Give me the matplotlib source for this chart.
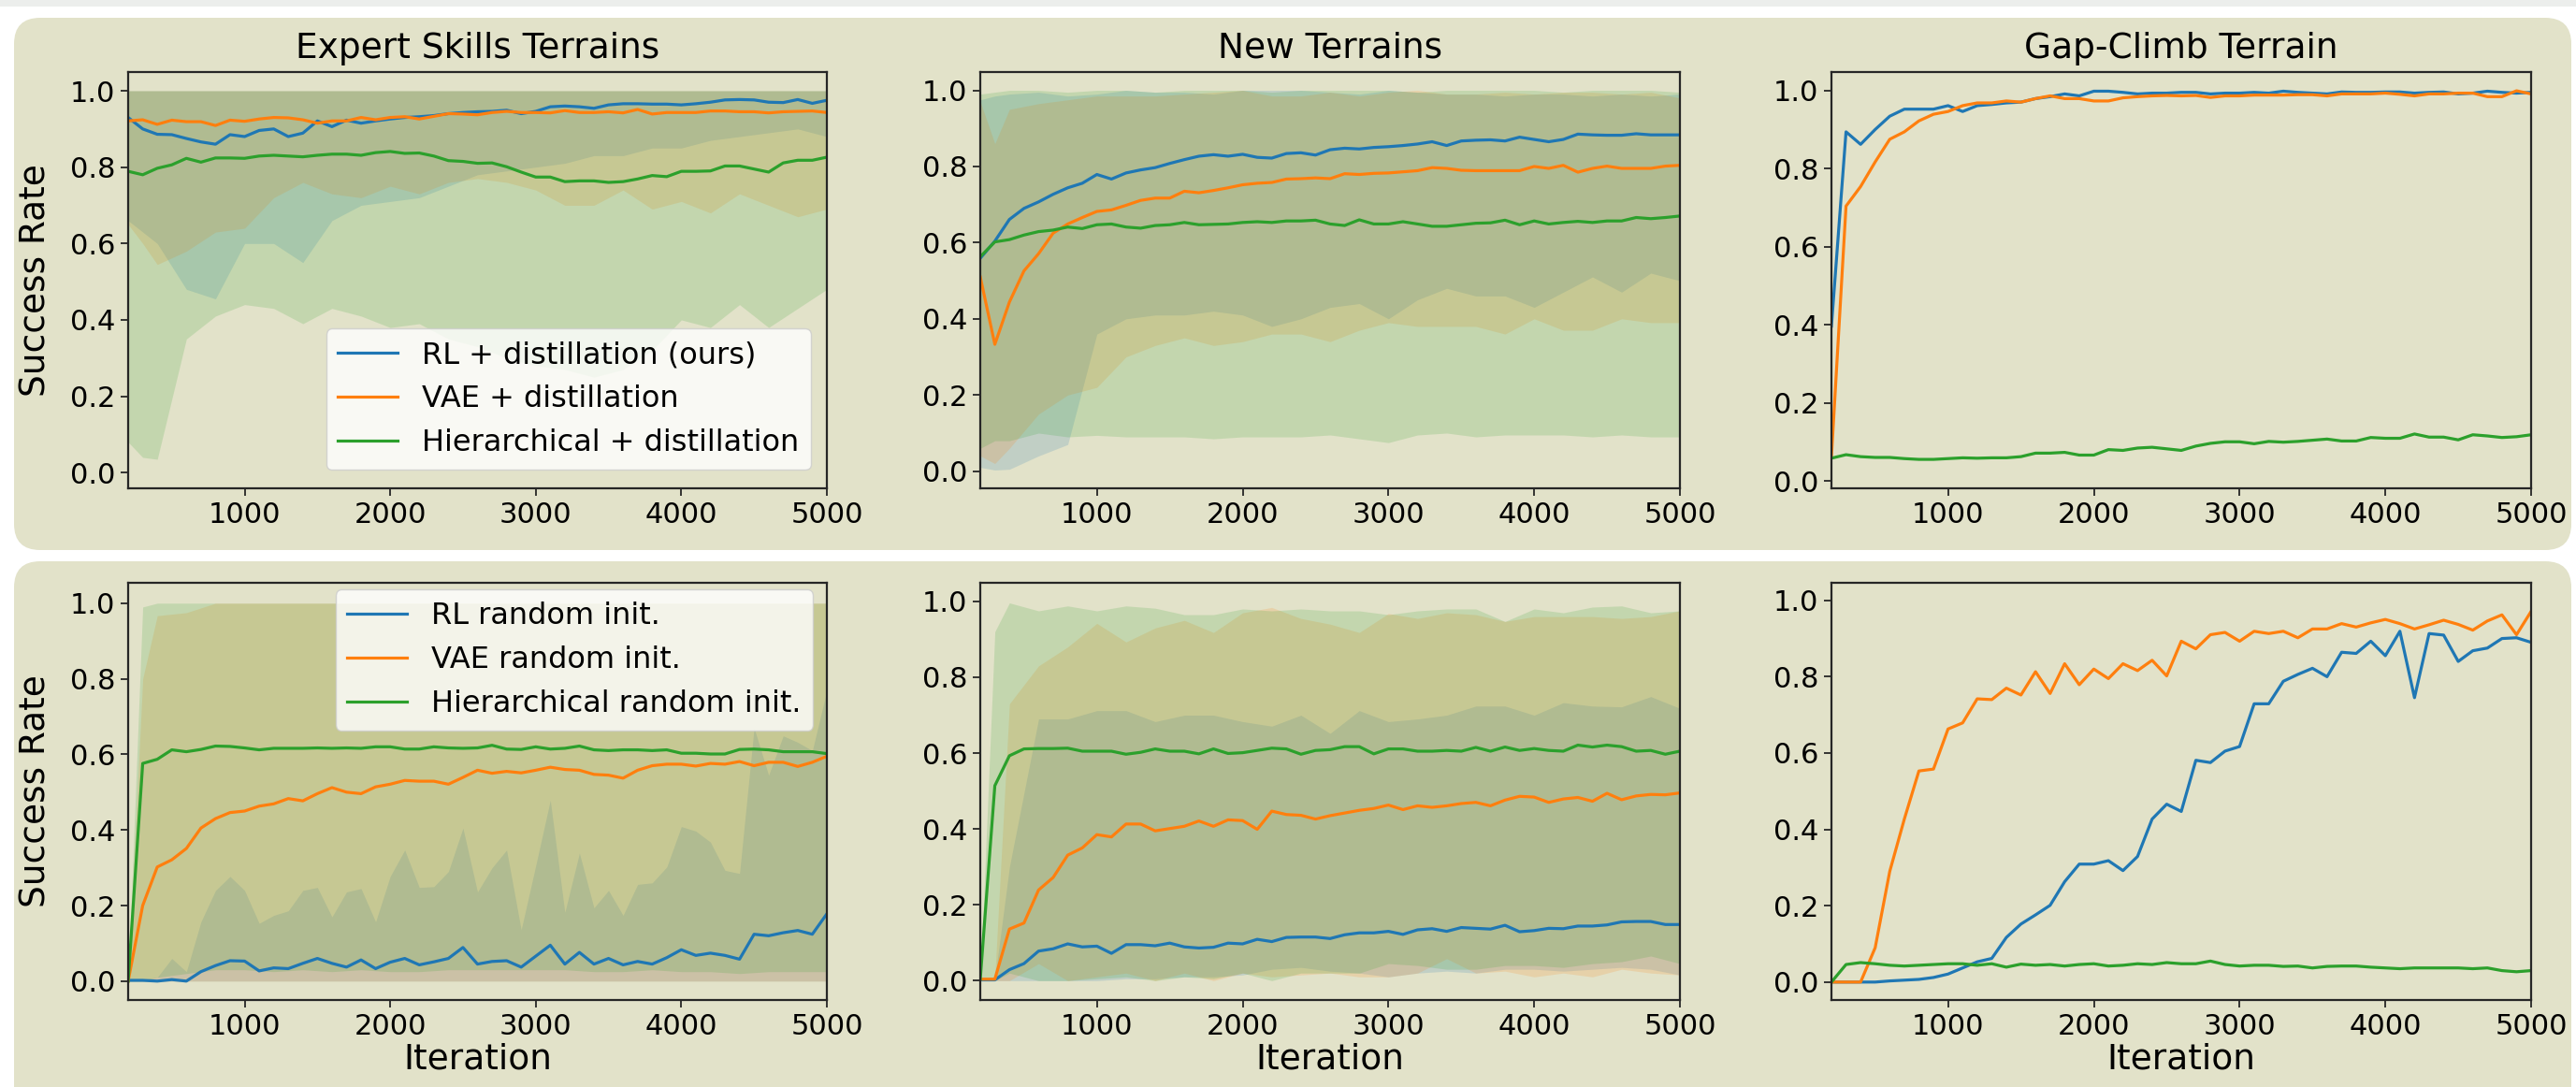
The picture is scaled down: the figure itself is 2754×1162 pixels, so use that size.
import matplotlib
matplotlib.use("Agg")
import matplotlib.pyplot as plt
from matplotlib.patches import FancyBboxPatch, Rectangle
from matplotlib.transforms import IdentityTransform

# ---------------- data ----------------
ITER = list(range(200, 5001, 100))
BAND_ITER = [200, 300, 400] + list(range(600, 5001, 200))

TITLES = ["Expert Skills Terrains", "New Terrains", "Gap-Climb Terrain"]
LABELS_TOP = ["RL + distillation (ours)", "VAE + distillation", "Hierarchical + distillation"]
LABELS_BOT = ["RL random init.", "VAE random init.", "Hierarchical random init."]
XTICKS = [1000, 2000, 3000, 4000, 5000]
YTICKS = [0.0, 0.2, 0.4, 0.6, 0.8, 1.0]

# Expert Skills Terrains (distillation)
P1_RL = [0.93, 0.90, 0.886, 0.885, 0.875, 0.866, 0.86, 0.885, 0.88, 0.896, 0.90, 0.88, 0.889, 0.921, 0.906, 0.923, 0.915,
         0.921, 0.926, 0.93, 0.932, 0.935, 0.94, 0.943, 0.945, 0.946, 0.949, 0.94, 0.946, 0.958, 0.96, 0.958, 0.954, 0.963,
         0.966, 0.966, 0.965, 0.965, 0.963, 0.966, 0.97, 0.976, 0.977, 0.976, 0.97, 0.969, 0.977, 0.967, 0.975]
P1_VAE = [0.921, 0.924, 0.912, 0.923, 0.919, 0.919, 0.909, 0.923, 0.92, 0.926, 0.93, 0.929, 0.924, 0.915, 0.921, 0.921,
          0.93, 0.924, 0.93, 0.932, 0.926, 0.933, 0.94, 0.939, 0.937, 0.943, 0.946, 0.943, 0.943, 0.942, 0.948, 0.943, 0.943,
          0.945, 0.942, 0.951, 0.939, 0.943, 0.943, 0.943, 0.947, 0.947, 0.945, 0.945, 0.942, 0.945, 0.946, 0.947, 0.943]
P1_HIER = [0.789, 0.78, 0.797, 0.806, 0.823, 0.813, 0.824, 0.824, 0.823, 0.829, 0.831, 0.829, 0.827, 0.831, 0.834, 0.834,
           0.831, 0.838, 0.841, 0.836, 0.837, 0.829, 0.817, 0.815, 0.81, 0.811, 0.801, 0.787, 0.774, 0.774, 0.762, 0.764,
           0.764, 0.76, 0.762, 0.769, 0.778, 0.775, 0.789, 0.789, 0.79, 0.803, 0.803, 0.795, 0.787, 0.811, 0.818, 0.818, 0.826]
P1_RL_LO = [0.66, 0.63, 0.60, 0.48, 0.455, 0.60, 0.60, 0.55, 0.66, 0.70, 0.71, 0.72, 0.75, 0.78, 0.79, 0.80, 0.81, 0.83,
            0.83, 0.85, 0.85, 0.87, 0.88, 0.89, 0.90, 0.88]
P1_VAE_LO = [0.65, 0.60, 0.545, 0.58, 0.63, 0.64, 0.72, 0.76, 0.73, 0.72, 0.75, 0.73, 0.76, 0.77, 0.76, 0.74, 0.70, 0.70,
             0.74, 0.69, 0.71, 0.68, 0.73, 0.70, 0.67, 0.69]
P1_HIER_LO = [0.08, 0.04, 0.035, 0.35, 0.41, 0.44, 0.43, 0.39, 0.43, 0.41, 0.38, 0.39, 0.35, 0.33, 0.30, 0.28, 0.27, 0.25,
              0.27, 0.32, 0.40, 0.38, 0.44, 0.38, 0.43, 0.48]
P1_HI = [1.0, 1.0, 1.0, 1.0, 1.0, 1.0, 1.0, 1.0, 1.0, 1.0, 1.0, 1.0, 1.0, 1.0, 1.0, 1.0, 1.0, 1.0, 1.0, 1.0, 1.0, 1.0,
         1.0, 1.0, 1.0, 1.0]

# New Terrains (distillation)
P2_RL = [0.559, 0.604, 0.661, 0.69, 0.707, 0.727, 0.744, 0.756, 0.779, 0.767, 0.783, 0.791, 0.797, 0.808, 0.818, 0.827,
         0.831, 0.827, 0.832, 0.824, 0.822, 0.834, 0.836, 0.83, 0.844, 0.848, 0.846, 0.85, 0.852, 0.855, 0.859, 0.865,
         0.855, 0.867, 0.869, 0.87, 0.867, 0.877, 0.871, 0.865, 0.871, 0.885, 0.883, 0.882, 0.882, 0.886, 0.883, 0.883, 0.883]
P2_VAE = [0.51, 0.333, 0.444, 0.526, 0.571, 0.625, 0.649, 0.666, 0.682, 0.686, 0.698, 0.711, 0.717, 0.717, 0.735, 0.731,
          0.737, 0.744, 0.752, 0.756, 0.758, 0.767, 0.768, 0.77, 0.768, 0.781, 0.779, 0.782, 0.783, 0.786, 0.789, 0.797,
          0.795, 0.79, 0.789, 0.789, 0.789, 0.789, 0.8, 0.795, 0.803, 0.785, 0.795, 0.801, 0.795, 0.795, 0.795, 0.801, 0.803]
P2_HIER = [0.563, 0.602, 0.608, 0.62, 0.629, 0.633, 0.641, 0.637, 0.647, 0.649, 0.641, 0.638, 0.645, 0.647, 0.653, 0.647,
           0.648, 0.649, 0.653, 0.655, 0.653, 0.657, 0.657, 0.659, 0.649, 0.645, 0.66, 0.649, 0.649, 0.655, 0.649, 0.643,
           0.643, 0.647, 0.651, 0.652, 0.659, 0.647, 0.657, 0.649, 0.653, 0.656, 0.653, 0.657, 0.657, 0.666, 0.663, 0.666, 0.67]
P2_RL_LO = [0.01, 0.003, 0.005, 0.04, 0.07, 0.36, 0.40, 0.41, 0.41, 0.42, 0.41, 0.38, 0.40, 0.43, 0.44, 0.40, 0.45, 0.48,
            0.46, 0.46, 0.43, 0.47, 0.51, 0.47, 0.52, 0.50]
P2_RL_HI = [0.975, 0.985, 0.99, 0.995, 0.985, 0.99, 1.0, 0.995, 0.995, 0.99, 1.0, 1.0, 1.0, 0.995, 0.99, 1.0, 0.995, 0.99,
            0.99, 0.985, 0.99, 0.99, 0.985, 0.99, 0.985, 0.99]
P2_VAE_LO = [0.04, 0.02, 0.06, 0.15, 0.20, 0.22, 0.30, 0.33, 0.35, 0.33, 0.34, 0.36, 0.36, 0.34, 0.37, 0.39, 0.38, 0.38,
             0.38, 0.36, 0.40, 0.37, 0.37, 0.40, 0.39, 0.39]
P2_VAE_HI = [0.97, 0.86, 0.95, 0.965, 0.975, 0.985, 0.985, 0.985, 0.99, 0.995, 1.0, 0.985, 0.985, 0.995, 0.985, 0.995,
             1.0, 0.99, 0.99, 0.995, 0.99, 0.995, 0.995, 0.99, 0.995, 0.98]
P2_HIER_LO = [0.06, 0.08, 0.08, 0.10, 0.09, 0.094, 0.09, 0.09, 0.09, 0.085, 0.09, 0.09, 0.09, 0.095, 0.085, 0.075, 0.095,
              0.10, 0.09, 0.095, 0.095, 0.095, 0.09, 0.095, 0.09, 0.09]
P2_HIER_HI = [0.99, 0.995, 1.0, 1.0, 0.995, 1.0, 1.0, 0.995, 1.0, 1.0, 1.0, 0.995, 1.0, 1.0, 1.0, 1.0, 0.995, 1.0, 1.0,
              1.0, 1.0, 0.995, 1.0, 1.0, 1.0, 0.995]

# Gap-Climb Terrain (distillation)
P3_RL = [0.397, 0.894, 0.862, 0.9, 0.934, 0.952, 0.952, 0.952, 0.961, 0.946, 0.961, 0.964, 0.968, 0.97, 0.979, 0.984,
         0.991, 0.986, 0.998, 0.998, 0.995, 0.991, 0.993, 0.993, 0.995, 0.995, 0.991, 0.993, 0.993, 0.995, 0.993, 0.998,
         0.995, 0.993, 0.991, 0.996, 0.995, 0.995, 0.996, 0.996, 0.993, 0.995, 0.996, 0.991, 0.993, 0.998, 0.995, 0.993, 0.995]
P3_VAE = [0.063, 0.704, 0.754, 0.817, 0.875, 0.894, 0.922, 0.939, 0.946, 0.961, 0.968, 0.968, 0.973, 0.97, 0.979, 0.986,
          0.979, 0.979, 0.973, 0.973, 0.981, 0.984, 0.986, 0.987, 0.986, 0.987, 0.982, 0.986, 0.986, 0.988, 0.988, 0.988,
          0.989, 0.989, 0.986, 0.991, 0.991, 0.991, 0.993, 0.99, 0.986, 0.991, 0.991, 0.993, 0.993, 0.984, 0.984, 0.999, 0.991]
P3_HIER = [0.059, 0.068, 0.063, 0.061, 0.061, 0.058, 0.056, 0.056, 0.058, 0.06, 0.059, 0.06, 0.06, 0.063, 0.072, 0.072,
           0.074, 0.067, 0.067, 0.081, 0.079, 0.085, 0.087, 0.083, 0.079, 0.09, 0.097, 0.101, 0.101, 0.096, 0.102, 0.1,
           0.102, 0.105, 0.108, 0.103, 0.103, 0.112, 0.11, 0.11, 0.121, 0.113, 0.113, 0.106, 0.119, 0.116, 0.112, 0.114, 0.119]

# Expert Skills Terrains (random init)
P4_RL = [0.002, 0.002, 0.0, 0.004, 0.0, 0.025, 0.041, 0.054, 0.053, 0.027, 0.035, 0.033, 0.047, 0.06, 0.047, 0.037, 0.056,
         0.033, 0.05, 0.06, 0.043, 0.051, 0.06, 0.089, 0.045, 0.052, 0.054, 0.037, 0.066, 0.095, 0.045, 0.076, 0.045, 0.06,
         0.043, 0.052, 0.045, 0.062, 0.083, 0.068, 0.074, 0.068, 0.058, 0.124, 0.12, 0.128, 0.134, 0.124, 0.178]
P4_VAE = [0.0, 0.2, 0.302, 0.321, 0.351, 0.405, 0.43, 0.446, 0.45, 0.463, 0.469, 0.483, 0.477, 0.496, 0.512, 0.5, 0.496,
          0.514, 0.521, 0.531, 0.529, 0.529, 0.521, 0.539, 0.558, 0.55, 0.555, 0.551, 0.558, 0.566, 0.56, 0.558, 0.547,
          0.545, 0.537, 0.558, 0.57, 0.574, 0.574, 0.569, 0.576, 0.574, 0.581, 0.57, 0.579, 0.579, 0.568, 0.579, 0.595]
P4_HIER = [0.0, 0.576, 0.587, 0.612, 0.607, 0.613, 0.622, 0.621, 0.617, 0.612, 0.616, 0.616, 0.616, 0.617, 0.616, 0.617,
           0.616, 0.62, 0.62, 0.614, 0.614, 0.62, 0.617, 0.616, 0.617, 0.624, 0.614, 0.613, 0.62, 0.614, 0.616, 0.622,
           0.612, 0.61, 0.612, 0.612, 0.61, 0.612, 0.603, 0.603, 0.601, 0.601, 0.613, 0.614, 0.612, 0.607, 0.607, 0.607, 0.602]
P4_RL_LO = [0.0, 0.0, 0.0, 0.0, 0.0, 0.0, 0.0, 0.0, 0.0, 0.0, 0.0, 0.0, 0.0, 0.0, 0.0, 0.0, 0.0, 0.0, 0.0, 0.0, 0.0, 0.0,
            0.0, 0.0, 0.0, 0.0, 0.0, 0.0, 0.0, 0.0, 0.0, 0.0, 0.0, 0.0, 0.0, 0.0, 0.0, 0.0, 0.0, 0.0, 0.0, 0.0, 0.0, 0.0,
            0.0, 0.0, 0.0, 0.0, 0.0]
P4_RL_HI = [0.0, 0.005, 0.01, 0.06, 0.025, 0.157, 0.24, 0.277, 0.24, 0.153, 0.174, 0.186, 0.24, 0.248, 0.17, 0.236, 0.245,
            0.157, 0.277, 0.347, 0.248, 0.25, 0.29, 0.405, 0.236, 0.30, 0.347, 0.136, 0.306, 0.479, 0.182, 0.339, 0.194,
            0.24, 0.174, 0.256, 0.26, 0.302, 0.409, 0.397, 0.368, 0.293, 0.285, 0.67, 0.545, 0.649, 0.632, 0.61, 0.77]
P4_VAE_LO = [0.0, 0.0, 0.0, 0.0, 0.0, 0.0, 0.0, 0.0, 0.0, 0.0, 0.0, 0.0, 0.0, 0.0, 0.0, 0.0, 0.0, 0.0, 0.0, 0.0, 0.0, 0.0,
             0.0, 0.0, 0.0, 0.0]
P4_VAE_HI = [0.0, 0.80, 0.967, 0.975, 1.0, 1.0, 1.0, 1.0, 1.0, 1.0, 1.0, 1.0, 1.0, 1.0, 1.0, 1.0, 1.0, 1.0, 1.0, 1.0, 1.0,
             1.0, 1.0, 1.0, 1.0, 1.0]
P4_HIER_LO = [0.0, 0.0, 0.01, 0.02, 0.03, 0.03, 0.025, 0.03, 0.025, 0.03, 0.025, 0.025, 0.03, 0.03, 0.03, 0.03, 0.03,
              0.025, 0.025, 0.03, 0.025, 0.025, 0.02, 0.025, 0.025, 0.025]
P4_HIER_HI = [0.0, 0.99, 1.0, 1.0, 1.0, 1.0, 1.0, 1.0, 1.0, 1.0, 1.0, 1.0, 1.0, 1.0, 1.0, 1.0, 1.0, 1.0, 1.0, 1.0, 1.0,
              1.0, 1.0, 1.0, 1.0, 1.0]

# New Terrains (random init)
P5_RL = [0.002, 0.002, 0.029, 0.045, 0.078, 0.084, 0.097, 0.089, 0.091, 0.072, 0.095, 0.095, 0.092, 0.099, 0.089, 0.086,
         0.088, 0.099, 0.097, 0.109, 0.103, 0.114, 0.115, 0.115, 0.111, 0.121, 0.126, 0.126, 0.13, 0.122, 0.134, 0.137,
         0.13, 0.14, 0.138, 0.136, 0.146, 0.129, 0.132, 0.138, 0.137, 0.144, 0.144, 0.147, 0.155, 0.156, 0.156, 0.148, 0.148]
P5_VAE = [0.004, 0.004, 0.136, 0.152, 0.239, 0.272, 0.331, 0.35, 0.385, 0.379, 0.413, 0.413, 0.395, 0.401, 0.407, 0.421,
          0.407, 0.424, 0.422, 0.399, 0.447, 0.438, 0.436, 0.426, 0.435, 0.442, 0.449, 0.454, 0.463, 0.451, 0.461, 0.457,
          0.461, 0.467, 0.47, 0.461, 0.476, 0.486, 0.484, 0.47, 0.479, 0.483, 0.473, 0.494, 0.477, 0.487, 0.491, 0.49, 0.495]
P5_HIER = [0.004, 0.514, 0.593, 0.611, 0.612, 0.612, 0.613, 0.605, 0.605, 0.605, 0.597, 0.602, 0.611, 0.605, 0.605,
           0.598, 0.611, 0.599, 0.601, 0.607, 0.613, 0.611, 0.597, 0.607, 0.609, 0.617, 0.617, 0.598, 0.611, 0.611, 0.605,
           0.605, 0.607, 0.605, 0.615, 0.605, 0.616, 0.607, 0.612, 0.607, 0.605, 0.621, 0.616, 0.621, 0.617, 0.605, 0.607,
           0.597, 0.605]
P5_RL_LO = [0.0, 0.0, 0.0, 0.0, 0.0, 0.0, 0.005, 0.005, 0.01, 0.01, 0.015, 0.03, 0.035, 0.025, 0.02, 0.01, 0.02, 0.025,
            0.02, 0.03, 0.03, 0.025, 0.03, 0.035, 0.03, 0.015]
P5_RL_HI = [0.002, 0.005, 0.30, 0.69, 0.69, 0.712, 0.712, 0.683, 0.70, 0.70, 0.683, 0.671, 0.70, 0.652, 0.712, 0.683,
            0.69, 0.70, 0.724, 0.724, 0.70, 0.733, 0.724, 0.722, 0.749, 0.718]
P5_VAE_LO = [0.0, 0.0, 0.0, 0.045, 0.0, 0.01, 0.02, 0.0, 0.02, 0.0, 0.02, 0.01, 0.015, 0.02, 0.01, 0.01, 0.02, 0.058,
             0.02, 0.025, 0.01, 0.02, 0.01, 0.03, 0.02, 0.015]
P5_VAE_HI = [0.004, 0.01, 0.73, 0.83, 0.88, 0.942, 0.893, 0.93, 0.95, 0.918, 0.97, 0.984, 0.955, 0.94, 0.918, 0.968,
             0.955, 0.97, 0.965, 0.947, 0.96, 0.96, 0.96, 0.955, 0.96, 0.975]
P5_HIER_LO = [0.0, 0.0, 0.02, 0.0, 0.0, 0.005, 0.01, 0.0, 0.01, 0.005, 0.02, 0.0, 0.02, 0.02, 0.02, 0.045, 0.04, 0.03,
              0.03, 0.04, 0.04, 0.035, 0.045, 0.05, 0.065, 0.045]
P5_HIER_HI = [0.0, 0.92, 0.996, 0.975, 0.988, 0.975, 0.988, 0.982, 0.965, 0.965, 0.98, 0.975, 0.98, 0.975, 0.975,
              0.965, 0.975, 0.98, 0.98, 0.947, 0.98, 0.97, 0.985, 0.988, 0.97, 0.975]

# Gap-Climb Terrain (random init)
P6_RL = [0.0, 0.0, 0.0, 0.0, 0.003, 0.005, 0.007, 0.012, 0.021, 0.037, 0.053, 0.062, 0.117, 0.152, 0.176, 0.201, 0.263,
         0.309, 0.309, 0.318, 0.292, 0.329, 0.427, 0.466, 0.447, 0.581, 0.575, 0.605, 0.617, 0.729, 0.729, 0.788, 0.806,
         0.822, 0.8, 0.864, 0.861, 0.893, 0.855, 0.919, 0.745, 0.913, 0.909, 0.84, 0.868, 0.875, 0.9, 0.902, 0.89]
P6_VAE = [0.0, 0.0, 0.0, 0.09, 0.29, 0.427, 0.553, 0.558, 0.663, 0.679, 0.742, 0.74, 0.77, 0.752, 0.813, 0.756, 0.834,
          0.779, 0.82, 0.795, 0.834, 0.816, 0.843, 0.802, 0.893, 0.873, 0.91, 0.916, 0.893, 0.919, 0.913, 0.919, 0.902,
          0.925, 0.925, 0.939, 0.93, 0.941, 0.95, 0.939, 0.925, 0.936, 0.948, 0.937, 0.922, 0.946, 0.962, 0.91, 0.971]
P6_HIER = [0.0, 0.046, 0.051, 0.048, 0.044, 0.042, 0.044, 0.046, 0.048, 0.048, 0.044, 0.048, 0.039, 0.047, 0.044, 0.046,
           0.042, 0.046, 0.048, 0.042, 0.044, 0.048, 0.046, 0.051, 0.048, 0.048, 0.055, 0.046, 0.042, 0.044, 0.044, 0.041,
           0.042, 0.037, 0.041, 0.042, 0.042, 0.039, 0.037, 0.035, 0.037, 0.037, 0.037, 0.037, 0.035, 0.037, 0.03, 0.027, 0.03]

# ---------------- style ----------------
W, H = 2754, 1162
BG = "#e2e2c9"
COLORS = ["#1f77b4", "#ff7f0e", "#2ca02c"]
SPINE = "#262626"
BAND_ALPHA = 0.17

fig = plt.figure(figsize=(W / 100, H / 100), dpi=100)
fig.patch.set_facecolor("white")

fig.add_artist(Rectangle((0, H - 7), W, 7, transform=IdentityTransform(), fc="#eceeec", ec="none", zorder=-20))
for y_top, y_bot in [(19, 588), (600, 1220)]:
    fig.add_artist(FancyBboxPatch((15, H - y_bot), 2749 - 15, y_bot - y_top,
                                  boxstyle="round,pad=0,rounding_size=28", transform=IdentityTransform(),
                                  fc=BG, ec="none", zorder=-10))

LEFTS = [137, 1048, 1958]
RIGHTS = [884, 1796, 2706]
ROWS = [(77, 522), (623, 1069)]
YLIMS = [[(-0.041, 1.049), (-0.045, 1.048), (-0.018, 1.047)],
         [(-0.05, 1.054), (-0.051, 1.049), (-0.047, 1.046)]]

panels = [
    [  # top row
        dict(lines=[P1_RL, P1_VAE, P1_HIER],
             bands=[(BAND_ITER, P1_RL_LO, P1_HI), (BAND_ITER, P1_VAE_LO, P1_HI), (BAND_ITER, P1_HIER_LO, P1_HI)]),
        dict(lines=[P2_RL, P2_VAE, P2_HIER],
             bands=[(BAND_ITER, P2_RL_LO, P2_RL_HI), (BAND_ITER, P2_VAE_LO, P2_VAE_HI),
                    (BAND_ITER, P2_HIER_LO, P2_HIER_HI)]),
        dict(lines=[P3_RL, P3_VAE, P3_HIER], bands=[]),
    ],
    [  # bottom row
        dict(lines=[P4_RL, P4_VAE, P4_HIER],
             bands=[(ITER, P4_RL_LO, P4_RL_HI), (BAND_ITER, P4_VAE_LO, P4_VAE_HI),
                    (BAND_ITER, P4_HIER_LO, P4_HIER_HI)]),
        dict(lines=[P5_RL, P5_VAE, P5_HIER],
             bands=[(BAND_ITER, P5_RL_LO, P5_RL_HI), (BAND_ITER, P5_VAE_LO, P5_VAE_HI),
                    (BAND_ITER, P5_HIER_LO, P5_HIER_HI)]),
        dict(lines=[P6_RL, P6_VAE, P6_HIER], bands=[]),
    ],
]

for r, (top, bot) in enumerate(ROWS):
    labels = LABELS_TOP if r == 0 else LABELS_BOT
    for c in range(3):
        ax = fig.add_axes([LEFTS[c] / W, 1 - bot / H, (RIGHTS[c] - LEFTS[c]) / W, (bot - top) / H])
        ax.set_facecolor("none")
        p = panels[r][c]
        for (bx, lo, hi), col in zip(p["bands"], COLORS):
            ax.fill_between(bx, lo, hi, color=col, alpha=BAND_ALPHA, linewidth=0)
        handles = []
        for ys, col, lab in zip(p["lines"], COLORS, labels):
            h, = ax.plot(ITER, ys, color=col, lw=2.3, label=lab)
            handles.append(h)
        ax.set_xlim(200, 5000)
        ax.set_ylim(*YLIMS[r][c])
        ax.set_xticks(XTICKS)
        ax.set_yticks(YTICKS)
        ax.tick_params(labelsize=22, length=6, width=1.3, color=SPINE, pad=4)
        for s in ax.spines.values():
            s.set_linewidth(1.6)
            s.set_color(SPINE)
        if r == 0:
            ax.set_title(TITLES[c], fontsize=27, pad=11)
        else:
            ax.set_xlabel("Iteration", fontsize=27, labelpad=2)
        if c == 0:
            ax.set_ylabel("Success Rate", fontsize=27, labelpad=13)
            if r == 0:
                ax.legend(handles=handles, loc="lower right", bbox_to_anchor=(0.977, 0.045), borderaxespad=0,
                          fontsize=23, labelspacing=0.5, framealpha=0.8, edgecolor="0.8")
            else:
                ax.legend(handles=handles, loc="upper right", bbox_to_anchor=(0.98, 0.984), borderaxespad=0,
                          fontsize=23, labelspacing=0.5, framealpha=0.8, edgecolor="0.8")

fig.savefig("out.png", dpi=100, facecolor=fig.get_facecolor())
